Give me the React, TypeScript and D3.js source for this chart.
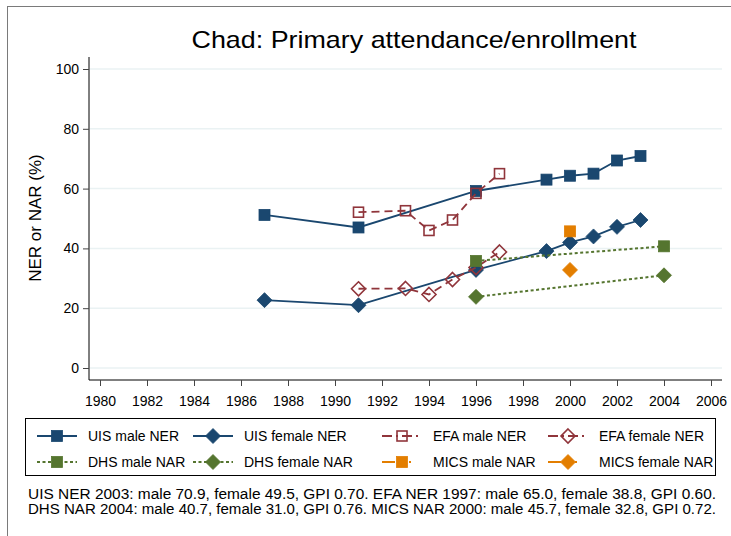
import React, { useEffect, useRef } from 'react';
import * as d3 from 'd3';

interface Pt { year: number; value: number; }

const uisMale: Pt[] = [
  { year: 1987, value: 51.2 }, { year: 1991, value: 47.0 }, { year: 1996, value: 59.2 },
  { year: 1999, value: 63.0 }, { year: 2000, value: 64.3 }, { year: 2001, value: 65.0 },
  { year: 2002, value: 69.4 }, { year: 2003, value: 70.9 },
];
const uisFemale: Pt[] = [
  { year: 1987, value: 22.7 }, { year: 1991, value: 21.0 }, { year: 1996, value: 32.8 },
  { year: 1999, value: 39.1 }, { year: 2000, value: 42.0 }, { year: 2001, value: 44.0 },
  { year: 2002, value: 47.2 }, { year: 2003, value: 49.5 },
];
const efaMale: Pt[] = [
  { year: 1991, value: 52.1 }, { year: 1993, value: 52.6 }, { year: 1994, value: 46.0 },
  { year: 1995, value: 49.5 }, { year: 1996, value: 58.4 }, { year: 1997, value: 65.0 },
];
const efaFemale: Pt[] = [
  { year: 1991, value: 26.5 }, { year: 1993, value: 26.6 }, { year: 1994, value: 24.6 },
  { year: 1995, value: 29.6 }, { year: 1996, value: 33.6 }, { year: 1997, value: 38.8 },
];
const dhsMale: Pt[] = [{ year: 1996, value: 35.8 }, { year: 2004, value: 40.7 }];
const dhsFemale: Pt[] = [{ year: 1996, value: 23.8 }, { year: 2004, value: 31.0 }];
const micsMale: Pt[] = [{ year: 2000, value: 45.7 }];
const micsFemale: Pt[] = [{ year: 2000, value: 32.8 }];

const xTicks = d3.range(1980, 2007, 2);
const yTicks = [0, 20, 40, 60, 80, 100];

const footnote = [
  'UIS NER 2003: male 70.9, female 49.5, GPI 0.70. EFA NER 1997: male 65.0, female 38.8, GPI 0.60.',
  'DHS NAR 2004: male 40.7, female 31.0, GPI 0.76. MICS NAR 2000: male 45.7, female 32.8, GPI 0.72.',
];

const NAVY = '#1a476f';
const RED = '#90353b';
const GREEN = '#55752f';
const ORANGE = '#e37e00';

interface Series {
  label: string;
  data: Pt[];
  color: string;
  dash: string | null;
  shape: 'square' | 'diamond';
  hollow: boolean;
  line: boolean;
}

const series: Series[] = [
  { label: 'UIS male NER', data: uisMale, color: NAVY, dash: null, shape: 'square', hollow: false, line: true },
  { label: 'UIS female NER', data: uisFemale, color: NAVY, dash: null, shape: 'diamond', hollow: false, line: true },
  { label: 'EFA male NER', data: efaMale, color: RED, dash: '8,5', shape: 'square', hollow: true, line: true },
  { label: 'EFA female NER', data: efaFemale, color: RED, dash: '8,5', shape: 'diamond', hollow: true, line: true },
  { label: 'DHS male NAR', data: dhsMale, color: GREEN, dash: '3,2.5', shape: 'square', hollow: false, line: true },
  { label: 'DHS female NAR', data: dhsFemale, color: GREEN, dash: '3,2.5', shape: 'diamond', hollow: false, line: true },
  { label: 'MICS male NAR', data: micsMale, color: ORANGE, dash: null, shape: 'square', hollow: false, line: false },
  { label: 'MICS female NAR', data: micsFemale, color: ORANGE, dash: null, shape: 'diamond', hollow: false, line: false },
];

const W = 731;
const H = 536;
const FONT = 'Liberation Sans, Arial, sans-serif';

function drawMarker(g: d3.Selection<SVGGElement, unknown, null, undefined>, s: Series, x: number, y: number) {
  if (s.shape === 'square') {
    const a = s.hollow ? 10 : 11;
    g.append('rect')
      .attr('x', x - a / 2).attr('y', y - a / 2)
      .attr('width', a).attr('height', a)
      .attr('fill', s.hollow ? 'none' : s.color)
      .attr('stroke', s.color)
      .attr('stroke-width', s.hollow ? 1.6 : 0.8);
  } else {
    const r = s.hollow ? 7 : 7.5;
    g.append('path')
      .attr('d', `M${x},${y - r}L${x + r},${y}L${x},${y + r}L${x - r},${y}Z`)
      .attr('fill', s.hollow ? 'none' : s.color)
      .attr('stroke', s.color)
      .attr('stroke-width', s.hollow ? 1.6 : 0.8);
  }
}

const App: React.FC = () => {
  const ref = useRef<SVGSVGElement | null>(null);

  useEffect(() => {
    const svg = d3.select(ref.current!);
    svg.selectAll('*').remove();

    const x = d3.scaleLinear().domain([1980, 2006]).range([100, 711]);
    const y = d3.scaleLinear().domain([0, 100]).range([368, 69]);
    const plotL = 89;
    const plotR = 722;
    const axisY = 380;

    // outer frame
    svg.append('rect')
      .attr('x', 7.5).attr('y', 6.5).attr('width', W + 20).attr('height', H + 20)
      .attr('fill', 'white').attr('stroke', '#7a7a7a').attr('stroke-width', 1);

    // title
    svg.append('text')
      .attr('x', 414).attr('y', 48)
      .attr('text-anchor', 'middle')
      .attr('font-family', FONT).attr('font-size', 24)
      .attr('textLength', 445).attr('lengthAdjust', 'spacingAndGlyphs')
      .attr('fill', '#000')
      .text('Chad: Primary attendance/enrollment');

    // gridlines
    svg.append('g').selectAll('line')
      .data(yTicks)
      .enter()
      .append('line')
      .attr('x1', plotL + 1).attr('x2', plotR)
      .attr('y1', d => y(d)).attr('y2', d => y(d))
      .attr('stroke', '#eaf2f3').attr('stroke-width', 1.5);

    // y axis
    const yAxis = svg.append('g')
      .attr('transform', `translate(${plotL},0)`)
      .call(d3.axisLeft(y).tickValues(yTicks).tickSize(6).tickPadding(4).tickFormat(d3.format('d')));
    yAxis.select('.domain').attr('d', `M0,${y(100) - 12}V${axisY}`).attr('stroke', '#000');
    yAxis.selectAll('.tick line').attr('stroke', '#444');
    yAxis.selectAll('text').attr('font-family', FONT).attr('font-size', 14).attr('fill', '#000');

    // x axis
    const xAxis = svg.append('g')
      .attr('transform', `translate(0,${axisY})`)
      .call(d3.axisBottom(x).tickValues(xTicks).tickSize(6).tickPadding(10).tickFormat(d3.format('d')));
    xAxis.select('.domain').attr('d', `M${plotL},0H${plotR}`).attr('stroke', '#000');
    xAxis.selectAll('.tick line').attr('stroke', '#444');
    xAxis.selectAll('text').attr('font-family', FONT).attr('font-size', 14).attr('fill', '#000');

    // y label
    svg.append('text')
      .attr('transform', `translate(41,218) rotate(-90)`)
      .attr('text-anchor', 'middle')
      .attr('font-family', FONT).attr('font-size', 17)
      .attr('fill', '#000')
      .text('NER or NAR (%)');

    const lineGen = d3.line<Pt>().x(d => x(d.year)).y(d => y(d.value));
    const marks = svg.append('g');

    series.forEach(s => {
      if (s.line && s.data.length > 1) {
        marks.append('path')
          .attr('d', lineGen(s.data))
          .attr('fill', 'none')
          .attr('stroke', s.color)
          .attr('stroke-width', s.dash === '3,2.5' ? 2 : 1.8)
          .attr('stroke-dasharray', s.dash);
      }
      const g = marks.append('g');
      s.data.forEach(d => drawMarker(g, s, x(d.year), y(d.value)));
    });

    // legend
    const lg = svg.append('g');
    lg.append('rect')
      .attr('x', 25.5).attr('y', 418.5).attr('width', 690).attr('height', 57)
      .attr('fill', 'white').attr('stroke', '#000').attr('stroke-width', 1);
    const colSym = [57, 213, 402, 568];
    const rowY = [436, 462];
    series.forEach((s, i) => {
      const cx = colSym[i % 4];
      const cy = rowY[Math.floor(i / 4)];
      lg.append('line')
        .attr('x1', cx - 20).attr('x2', cx + 20)
        .attr('y1', cy).attr('y2', cy)
        .attr('stroke', s.color)
        .attr('stroke-width', s.dash === '3,2.5' ? 2 : 1.8)
        .attr('stroke-dasharray', s.dash ? (s.hollow ? '10,4,2,4' : '3,2.5') : (s.line ? null : '13,14,2,20'));
      const mg = lg.append('g');
      drawMarker(mg, s, cx, cy);
      lg.append('text')
        .attr('x', cx + 31).attr('y', cy + 5)
        .attr('font-family', FONT).attr('font-size', 14)
        .attr('fill', '#000')
        .text(s.label);
    });

    // footnote
    svg.append('g').selectAll('text')
      .data(footnote)
      .enter()
      .append('text')
      .attr('x', 28)
      .attr('y', (d, i) => 499 + i * 14.5)
      .attr('font-family', FONT).attr('font-size', 14)
      .attr('textLength', 688).attr('lengthAdjust', 'spacingAndGlyphs')
      .attr('fill', '#000')
      .text(d => d);
  }, []);

  return (
    <svg ref={ref} width={W} height={H} style={{ position: 'absolute', left: 0, top: 0, background: 'white' }} />
  );
};

export default App;
